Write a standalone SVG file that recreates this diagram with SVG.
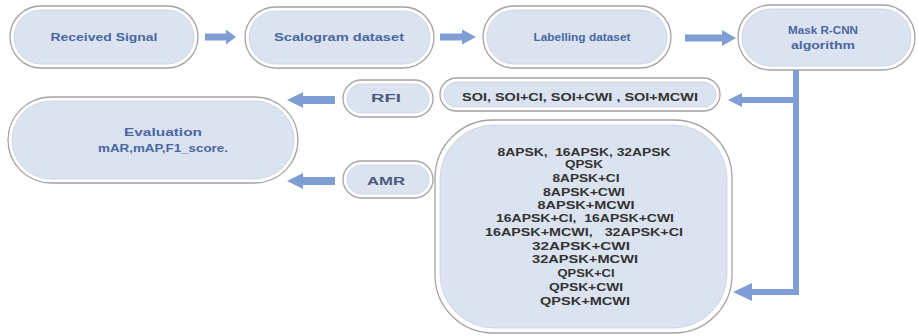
<svg xmlns="http://www.w3.org/2000/svg" width="918" height="336" viewBox="0 0 918 336">
<style>
.o{fill:#ffffff;stroke:#a3a3a3;stroke-width:1.3}
.i{fill:#dbe3f1;stroke:#c9d0dd;stroke-width:0.8}
.t{font-family:"Liberation Sans",Arial,sans-serif;font-weight:bold;font-size:11.5px;fill:#4a66a3;text-anchor:middle}
.s{font-size:10.5px}
.g{fill:#4a5a7e}
.d{font-family:"Liberation Sans",Arial,sans-serif;font-weight:bold;font-size:11px;fill:#333333;text-anchor:middle;white-space:pre}
.a{fill:#7f9ed6}
.l{stroke:#7f9ed6;stroke-width:6;fill:none}
</style>
<rect width="918" height="336" fill="#ffffff"/>
<g id="received">
<rect class="o" x="10" y="6" width="188" height="62" rx="31"/>
<rect class="i" x="14" y="10" width="180" height="54" rx="27"/>
<text class="t" x="104" y="41" textLength="107" lengthAdjust="spacingAndGlyphs">Received Signal</text>
</g>
<g id="scalogram">
<rect class="o" x="245" y="7" width="189" height="61" rx="30.5"/>
<rect class="i" x="249" y="11" width="181" height="53" rx="26.5"/>
<text class="t" x="339" y="41" textLength="130" lengthAdjust="spacingAndGlyphs">Scalogram dataset</text>
</g>
<g id="labelling">
<rect class="o" x="483" y="6" width="188" height="62" rx="31"/>
<rect class="i" x="487" y="10" width="180" height="54" rx="27"/>
<text class="t s" x="582" y="41" textLength="97" lengthAdjust="spacingAndGlyphs">Labelling dataset</text>
</g>
<g id="maskrcnn">
<rect class="o" x="738" y="5" width="177" height="65" rx="32.5"/>
<rect class="i" x="742" y="9" width="169" height="57" rx="28.5"/>
<text class="t s" x="823" y="34" textLength="70" lengthAdjust="spacingAndGlyphs">Mask R-CNN</text>
<text class="t s" x="823" y="49" textLength="64" lengthAdjust="spacingAndGlyphs">algorithm</text>
</g>
<g id="soi">
<rect class="o" x="440" y="78" width="280" height="33" rx="16.5"/>
<rect class="i" x="444" y="82" width="272" height="25" rx="12.5"/>
<text class="d" x="580" y="101" textLength="236" lengthAdjust="spacingAndGlyphs">SOI, SOI+CI, SOI+CWI , SOI+MCWI</text>
</g>
<g id="rfi">
<rect class="o" x="343" y="80" width="90" height="37" rx="18.5"/>
<rect class="i" x="347" y="84" width="82" height="29" rx="14.5"/>
<text class="t s g" x="386" y="102" textLength="30" lengthAdjust="spacingAndGlyphs">RFI</text>
</g>
<g id="amr">
<rect class="o" x="343" y="161" width="90" height="37" rx="18.5"/>
<rect class="i" x="347" y="165" width="82" height="29" rx="14.5"/>
<text class="t s g" x="386" y="185" textLength="38" lengthAdjust="spacingAndGlyphs">AMR</text>
</g>
<g id="evaluation">
<rect class="o" x="8" y="97" width="290" height="86" rx="43"/>
<rect class="i" x="12" y="101" width="282" height="78" rx="39"/>
<text class="t" x="163" y="136" textLength="78" lengthAdjust="spacingAndGlyphs">Evaluation</text>
<text class="t" x="163" y="152" textLength="130" lengthAdjust="spacingAndGlyphs">mAR,mAP,F1_score.</text>
</g>
<g id="modulations">
<rect class="o" x="435" y="120" width="297" height="213" rx="58"/>
<rect class="i" x="440" y="125" width="287" height="203" rx="54"/>
<text class="d" x="584" y="156" textLength="173" lengthAdjust="spacingAndGlyphs">8APSK,  16APSK, 32APSK</text>
<text class="d" x="584" y="168" textLength="38" lengthAdjust="spacingAndGlyphs">QPSK</text>
<text class="d" x="586" y="182" textLength="67" lengthAdjust="spacingAndGlyphs">8APSK+CI</text>
<text class="d" x="584" y="196" textLength="82" lengthAdjust="spacingAndGlyphs">8APSK+CWI</text>
<text class="d" x="586" y="209" textLength="97" lengthAdjust="spacingAndGlyphs">8APSK+MCWI</text>
<text class="d" x="585" y="222" textLength="178" lengthAdjust="spacingAndGlyphs">16APSK+CI,  16APSK+CWI</text>
<text class="d" x="584" y="236" textLength="198" lengthAdjust="spacingAndGlyphs">16APSK+MCWI,   32APSK+CI</text>
<text class="d" x="581" y="250" textLength="98" lengthAdjust="spacingAndGlyphs">32APSK+CWI</text>
<text class="d" x="585" y="263" textLength="106" lengthAdjust="spacingAndGlyphs">32APSK+MCWI</text>
<text class="d" x="586" y="277" textLength="57" lengthAdjust="spacingAndGlyphs">QPSK+CI</text>
<text class="d" x="586" y="291" textLength="74" lengthAdjust="spacingAndGlyphs">QPSK+CWI</text>
<text class="d" x="585" y="305" textLength="90" lengthAdjust="spacingAndGlyphs">QPSK+MCWI</text>
</g>
<g id="connectors">
<polygon class="a" points="205,33.5 226,33.5 226,29.5 236,37 226,44.5 226,40.5 205,40.5"/>
<polygon class="a" points="440,33.5 462,33.5 462,29.5 476,37 462,44.5 462,40.5 440,40.5"/>
<polygon class="a" points="685,34.5 722,34.5 722,30 736,38 722,46 722,41.5 685,41.5"/>
<polygon class="a" points="335,96 303,96 303,92 287,100 303,108 303,104 335,104"/>
<polygon class="a" points="335,177 303,177 303,173 287,181 303,189 303,185 335,185"/>
<polyline class="l" points="796,70 796,292 750,292"/>
<line class="l" x1="796" y1="100" x2="740" y2="100"/>
<polygon class="a" points="742,93 728,100 742,107"/>
<polygon class="a" points="752,283 733,292 752,301"/>
</g>
</svg>
